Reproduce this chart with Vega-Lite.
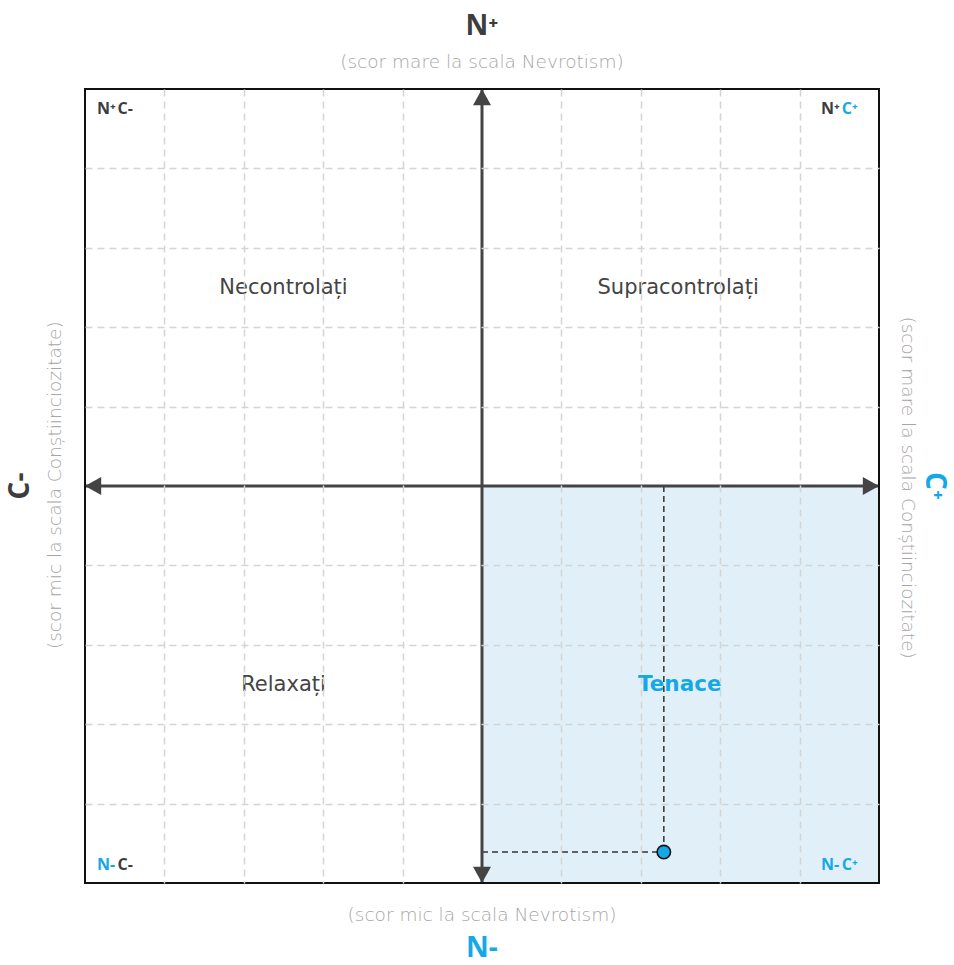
{
  "$schema": "https://vega.github.io/schema/vega-lite/v6.json",
  "width": 794,
  "height": 794,
  "autosize": {"type": "none"},
  "padding": {"left": 85, "top": 89, "right": 75, "bottom": 82},
  "background": "white",
  "config": {"view": {"stroke": null}, "font": "Open Sans"},
  "datasets": {
    "quadrant": [{"x": 0, "y": -5, "x2": 5, "y2": 0}],
    "frame": [{"x": -5, "y": -5, "x2": 5, "y2": 5}],
    "guides": [
      {"x": 2.29, "y": -4.61, "x2": 2.29, "y2": 0},
      {"x": 0, "y": -4.61, "x2": 2.29, "y2": -4.61}
    ],
    "axes": [
      {"x": -5, "y": 0, "x2": 5, "y2": 0},
      {"x": 0, "y": -5, "x2": 0, "y2": 5}
    ],
    "heads": [
      {"x": 5, "y": 0, "dir": "right"},
      {"x": -5, "y": 0, "dir": "left"},
      {"x": 0, "y": 5, "dir": "up"},
      {"x": 0, "y": -5, "dir": "down"}
    ],
    "person": [{"x": 2.29, "y": -4.61}],
    "quads": [
      {"x": -2.5, "y": 2.5, "t": "Necontrolați"},
      {"x": 2.47, "y": 2.5, "t": "Supracontrolați"},
      {"x": -2.5, "y": -2.5, "t": "Relaxați"}
    ],
    "tenace": [{"x": 2.49, "y": -2.5, "t": "Tenace"}],
    "hsub": [
      {"x": 0, "y": 5.34, "t": "(scor mare la scala Nevrotism)"},
      {"x": 0, "y": -5.4, "t": "(scor mic la scala Nevrotism)"}
    ],
    "lsub": [{"x": -5.38, "y": 0.01, "t": "(scor mic la scala Conștiinciozitate)"}],
    "rsub": [{"x": 5.36, "y": -0.02, "t": "(scor mare la scala Conștiinciozitate)"}],
    "htitle": [
      {"x": 0, "y": 5.78, "t": "N⁺", "c": "dark"},
      {"x": 0, "y": -5.83, "t": "N-", "c": "blue"}
    ],
    "ltitle": [{"x": -5.8, "y": 0, "t": "C-"}],
    "rtitle": [{"x": 5.69, "y": 0, "t": "C⁺"}],
    "corners": [
      {"x": -4.85, "y": 4.75, "t": "N⁺", "c": "dark"},
      {"x": -4.59, "y": 4.75, "t": "C-", "c": "dark"},
      {"x": 4.27, "y": 4.75, "t": "N⁺", "c": "dark"},
      {"x": 4.53, "y": 4.75, "t": "C⁺", "c": "blue"},
      {"x": -4.85, "y": -4.77, "t": "N-", "c": "blue"},
      {"x": -4.59, "y": -4.77, "t": "C-", "c": "dark"},
      {"x": 4.27, "y": -4.77, "t": "N-", "c": "blue"},
      {"x": 4.53, "y": -4.77, "t": "C⁺", "c": "blue"}
    ]
  },
  "encoding": {
    "x": {
      "field": "x", "type": "quantitative",
      "scale": {"domain": [-5, 5], "nice": false, "zero": false},
      "axis": {"values": [-4, -3, -2, -1, 1, 2, 3, 4], "grid": true, "gridDash": [7, 5], "gridColor": "#d4d4d4", "gridWidth": 1.5, "labels": false, "ticks": false, "domain": false, "title": null, "zindex": 1}
    },
    "y": {
      "field": "y", "type": "quantitative",
      "scale": {"domain": [-5, 5], "nice": false, "zero": false},
      "axis": {"values": [-4, -3, -2, -1, 1, 2, 3, 4], "grid": true, "gridDash": [7, 5], "gridColor": "#d4d4d4", "gridWidth": 1.5, "labels": false, "ticks": false, "domain": false, "title": null, "zindex": 1}
    }
  },
  "layer": [
    {
      "data": {"name": "quadrant"},
      "mark": {"type": "rect", "fill": "#e1f0f8"},
      "encoding": {"x2": {"field": "x2"}, "y2": {"field": "y2"}}
    },
    {
      "data": {"name": "guides"},
      "mark": {"type": "rule", "color": "#333333", "strokeWidth": 1.5, "strokeDash": [6, 4]},
      "encoding": {"x2": {"field": "x2"}, "y2": {"field": "y2"}}
    },
    {
      "data": {"name": "axes"},
      "mark": {"type": "rule", "color": "#444444", "strokeWidth": 3},
      "encoding": {"x2": {"field": "x2"}, "y2": {"field": "y2"}}
    },
    {
      "data": {"name": "heads"},
      "mark": {"type": "point", "filled": true, "color": "#444444", "opacity": 1, "size": 324},
      "encoding": {
        "shape": {
          "field": "dir", "type": "nominal", "legend": null,
          "scale": {
            "domain": ["right", "left", "up", "down"],
            "range": ["M0,0L-1.8,-1L-1.8,1Z", "M0,0L1.8,-1L1.8,1Z", "M0,0L-1,1.8L1,1.8Z", "M0,0L-1,-1.8L1,-1.8Z"]
          }
        }
      }
    },
    {
      "data": {"name": "person"},
      "mark": {"type": "point", "filled": true, "fill": "#14a9e6", "stroke": "#111111", "strokeWidth": 1.6, "opacity": 1, "size": 180, "shape": "circle"}
    },
    {
      "data": {"name": "quads"},
      "mark": {"type": "text", "font": "DejaVu Sans", "fontSize": 21, "color": "#444444", "align": "center", "baseline": "middle"},
      "encoding": {"text": {"field": "t"}}
    },
    {
      "data": {"name": "tenace"},
      "mark": {"type": "text", "font": "DejaVu Sans", "fontSize": 21.5, "fontWeight": "bold", "color": "#14a9e6", "align": "center", "baseline": "middle"},
      "encoding": {"text": {"field": "t"}}
    },
    {
      "data": {"name": "hsub"},
      "mark": {"type": "text", "font": "DejaVu Sans", "fontSize": 18.5, "fontWeight": 200, "color": "#a6a6a6", "align": "center", "baseline": "middle"},
      "encoding": {"text": {"field": "t"}}
    },
    {
      "data": {"name": "lsub"},
      "mark": {"type": "text", "font": "DejaVu Sans", "fontSize": 18.5, "fontWeight": 200, "color": "#a6a6a6", "align": "center", "baseline": "middle", "angle": 270},
      "encoding": {"text": {"field": "t"}}
    },
    {
      "data": {"name": "rsub"},
      "mark": {"type": "text", "font": "DejaVu Sans", "fontSize": 18.5, "fontWeight": 200, "color": "#a6a6a6", "align": "center", "baseline": "middle", "angle": 90},
      "encoding": {"text": {"field": "t"}}
    },
    {
      "data": {"name": "htitle"},
      "mark": {"type": "text", "font": "Open Sans", "fontSize": 28, "fontWeight": "bold", "align": "center", "baseline": "middle"},
      "encoding": {
        "text": {"field": "t"},
        "color": {"field": "c", "type": "nominal", "legend": null, "scale": {"domain": ["dark", "blue"], "range": ["#3d3d3d", "#14a9e6"]}}
      }
    },
    {
      "data": {"name": "ltitle"},
      "mark": {"type": "text", "font": "Open Sans", "fontSize": 28, "fontWeight": "bold", "color": "#3d3d3d", "align": "center", "baseline": "middle", "angle": 270},
      "encoding": {"text": {"field": "t"}}
    },
    {
      "data": {"name": "rtitle"},
      "mark": {"type": "text", "font": "Open Sans", "fontSize": 28, "fontWeight": "bold", "color": "#14a9e6", "align": "center", "baseline": "middle", "angle": 90},
      "encoding": {"text": {"field": "t"}}
    },
    {
      "data": {"name": "corners"},
      "mark": {"type": "text", "font": "Open Sans", "fontSize": 16, "fontWeight": "bold", "align": "left", "baseline": "middle"},
      "encoding": {
        "text": {"field": "t"},
        "color": {"field": "c", "type": "nominal", "legend": null, "scale": {"domain": ["dark", "blue"], "range": ["#3d3d3d", "#14a9e6"]}}
      }
    },
    {
      "data": {"name": "frame"},
      "mark": {"type": "rect", "filled": false, "stroke": "#111111", "strokeWidth": 2},
      "encoding": {"x2": {"field": "x2"}, "y2": {"field": "y2"}}
    }
  ]
}
